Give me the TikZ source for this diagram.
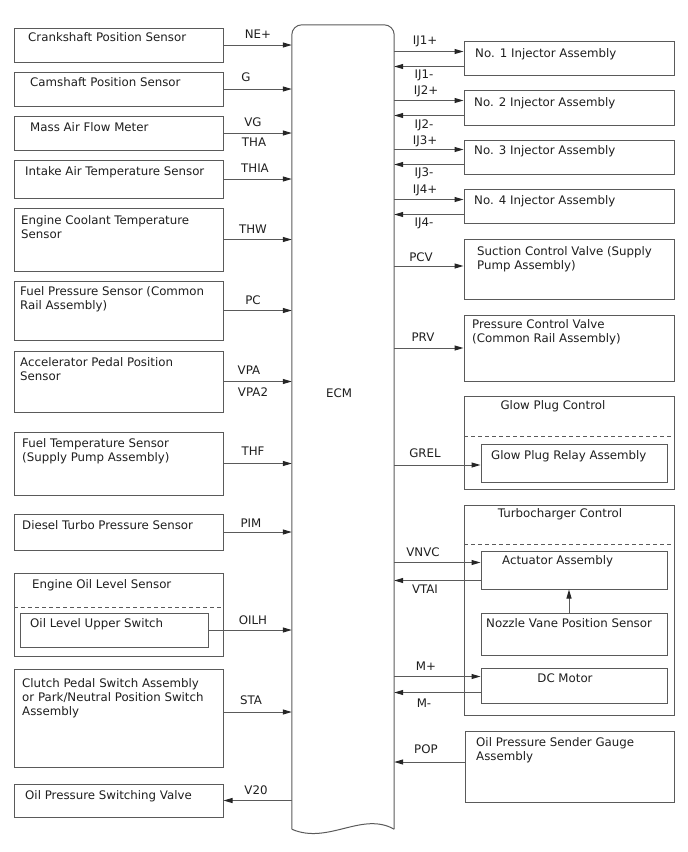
\documentclass[tikz,border=0pt]{standalone}
\usepackage{fontspec}
\setmainfont{DejaVu Sans}
\usepackage{tikz}
\usetikzlibrary{arrows.meta,calc,positioning}
\definecolor{linec}{HTML}{5A5A5A}
\definecolor{txtc}{HTML}{1E1E1E}

\begin{document}
\begin{tikzpicture}[x=1pt,y=-1pt,
  font=\fontsize{11.8}{14}\selectfont,
  box/.style={draw=linec,line width=1pt,inner sep=0pt,minimum width=209pt},
  rbox/.style={box,minimum width=210pt},
  subbox/.style={draw=linec,line width=1pt,inner sep=0pt,minimum width=186pt},
  txt/.style={inner sep=0pt,anchor=north west,align=left,text=txtc},
  sig/.style={inner sep=0pt,text=txtc},
  wire/.style={draw=linec,line width=1pt,-{Triangle[length=9pt,width=5pt,color=black!85]}},
  sep/.style={draw=linec,line width=0.9pt,dash pattern=on 4pt off 3pt}]
 \useasboundingbox (0,0) rectangle (688,852);

 % ECM
 \node[inner sep=0pt,minimum width=102pt,minimum height=804pt] (ecm) at (343,427) {};
 \draw[linec,line width=1pt,rounded corners=10pt]
   (ecm.south west) -- (ecm.north west) -- (ecm.north east) -- (ecm.south east);
 \draw[linec,line width=1pt] (ecm.south east) .. controls (362,811) and (328,845) .. (ecm.south west);
 \node[sig] (ecmt) at (339,393) {ECM};

 % inputs, left side
 \node[box,minimum height=34pt] (csp) at (118.5,45) {};
 \node[txt] (csp-t) at (28,32) {Crankshaft Position Sensor};
 \node[box,minimum height=34pt] (cmp) at (118.5,89) {};
 \node[txt] (cmp-t) at (30,77) {Camshaft Position Sensor};
 \node[box,minimum height=34pt] (maf) at (118.5,133) {};
 \node[txt] (maf-t) at (30,122) {Mass Air Flow Meter};
 \node[box,minimum height=38pt] (iat) at (118.5,179) {};
 \node[txt] (iat-t) at (25,166) {Intake Air Temperature Sensor};
 \node[box,minimum height=63pt] (ect) at (118.5,239.5) {};
 \node[txt] (ect-t) at (21,215) {Engine Coolant Temperature\\Sensor};
 \node[box,minimum height=59pt] (fps) at (118.5,310.5) {};
 \node[txt] (fps-t) at (20,286) {Fuel Pressure Sensor (Common\\Rail Assembly)};
 \node[box,minimum height=61pt] (app) at (118.5,381.5) {};
 \node[txt] (app-t) at (20,357) {Accelerator Pedal Position\\Sensor};
 \node[box,minimum height=63pt] (fts) at (118.5,463.5) {};
 \node[txt] (fts-t) at (22,438) {Fuel Temperature Sensor\\(Supply Pump Assembly)};
 \node[box,minimum height=36pt] (dtp) at (118.5,532) {};
 \node[txt] (dtp-t) at (22,520) {Diesel Turbo Pressure Sensor};
 \node[box,minimum height=83pt] (eol) at (118.5,614.5) {};
 \node[txt] (eol-t) at (32,579) {Engine Oil Level Sensor};
 \draw[sep] (14,607) -- (223,607);
 \node[subbox,minimum width=188pt,minimum height=34pt] (olu) at (114,630) {};
 \node[txt] (olu-t) at (30,618) {Oil Level Upper Switch};
 \node[box,minimum height=98pt] (cps) at (118.5,718) {};
 \node[txt] (cps-t) at (22,678) {Clutch Pedal Switch Assembly\\or Park/Neutral Position Switch\\Assembly};
 \node[box,minimum height=33pt] (opsv) at (118.5,800.5) {};
 \node[txt] (opsv-t) at (25,790) {Oil Pressure Switching Valve};

 \draw[wire] (csp.east) -- (csp.east -| ecm.west);
 \draw[wire] (cmp.east) -- (cmp.east -| ecm.west);
 \draw[wire] (maf.east) -- (maf.east -| ecm.west);
 \draw[wire] (iat.east) -- (iat.east -| ecm.west);
 \draw[wire] (ect.east) -- (ect.east -| ecm.west);
 \draw[wire] (fps.east) -- (fps.east -| ecm.west);
 \draw[wire] (app.east) -- (app.east -| ecm.west);
 \draw[wire] (fts.east) -- (fts.east -| ecm.west);
 \draw[wire] (dtp.east) -- (dtp.east -| ecm.west);
 \draw[wire] (olu.east) -- (olu.east -| ecm.west);
 \coordinate (sta) at ($(cps.east)+(0,-6)$);
 \draw[wire] (sta) -- (sta -| ecm.west);
 \draw[wire] (opsv.east -| ecm.west) -- (opsv.east);

 \node[sig] (ne)   at (258,34)  {NE+};
 \node[sig] (g)    at (246,77)  {G};
 \node[sig] (vg)   at (253,122) {VG};
 \node[sig] (tha)  at (254,142) {THA};
 \node[sig] (thia) at (255,168) {THIA};
 \node[sig] (thw)  at (253,229) {THW};
 \node[sig] (pc)   at (253,300) {PC};
 \node[sig] (vpa)  at (249,370) {VPA};
 \node[sig] (vpa2) at (253,392) {VPA2};
 \node[sig] (thf)  at (253,451) {THF};
 \node[sig] (pim)  at (251,523) {PIM};
 \node[sig] (oilh) at (253,620) {OILH};
 \node[sig] (stal) at (251,700) {STA};
 \node[sig] (v20)  at (256,790) {V20};

 % outputs, right side
 \node[rbox,minimum height=34pt] (inj1) at (569,58) {};
 \node[txt] (inj1-t) at (475,48) {No. 1 Injector Assembly};
 \node[rbox,minimum height=35pt] (inj2) at (569,107.5) {};
 \node[txt] (inj2-t) at (474,97) {No. 2 Injector Assembly};
 \node[rbox,minimum height=34pt] (inj3) at (569,157) {};
 \node[txt] (inj3-t) at (474,145) {No. 3 Injector Assembly};
 \node[rbox,minimum height=34pt] (inj4) at (569,206) {};
 \node[txt] (inj4-t) at (474,195) {No. 4 Injector Assembly};
 \node[rbox,minimum height=60pt] (scv) at (569,269) {};
 \node[txt] (scv-t) at (477,246) {Suction Control Valve (Supply\\Pump Assembly)};
 \node[rbox,minimum height=66pt] (prv) at (569,348) {};
 \node[txt] (prv-t) at (472,319) {Pressure Control Valve\\(Common Rail Assembly)};

 \node[rbox,minimum height=93pt] (gpc) at (569,442.5) {};
 \node[sig] (gpc-t) at (553,406) {Glow Plug Control};
 \draw[sep] (464,436) -- (674,436);
 \node[subbox,minimum height=38pt] (gpr) at (574,463) {};
 \node[txt] (gpr-t) at (491,450) {Glow Plug Relay Assembly};

 \node[rbox,minimum height=210pt] (tcc) at (569,610) {};
 \node[sig] (tcc-t) at (560,514) {Turbocharger Control};
 \draw[sep] (464,544) -- (674,544);
 \node[subbox,minimum height=38pt] (act) at (574,570) {};
 \node[txt] (act-t) at (502,555) {Actuator Assembly};
 \node[subbox,minimum height=42pt] (nvs) at (574,634) {};
 \node[txt] (nvs-t) at (486,618) {Nozzle Vane Position Sensor};
 \node[subbox,minimum height=35pt] (dcm) at (574,685.5) {};
 \node[sig] (dcm-t) at (565,678) {DC Motor};

 \node[rbox,minimum width=209pt,minimum height=71pt] (opsg) at (569.5,766.5) {};
 \node[txt] (opsg-t) at (476,737) {Oil Pressure Sender Gauge\\Assembly};

 \coordinate (ij1p) at ($(inj1.north west)+(0,11)$);
 \coordinate (ij1m) at ($(inj1.north west)+(0,26)$);
 \coordinate (ij2p) at ($(inj2.north west)+(0,11)$);
 \coordinate (ij2m) at ($(inj2.north west)+(0,26)$);
 \coordinate (ij3p) at ($(inj3.north west)+(0,10)$);
 \coordinate (ij3m) at ($(inj3.north west)+(0,25)$);
 \coordinate (ij4p) at ($(inj4.north west)+(0,11)$);
 \coordinate (ij4m) at ($(inj4.north west)+(0,26)$);
 \draw[wire] (ij1p -| ecm.east) -- (ij1p);
 \draw[wire] (ij1m) -- (ij1m -| ecm.east);
 \draw[wire] (ij2p -| ecm.east) -- (ij2p);
 \draw[wire] (ij2m) -- (ij2m -| ecm.east);
 \draw[wire] (ij3p -| ecm.east) -- (ij3p);
 \draw[wire] (ij3m) -- (ij3m -| ecm.east);
 \draw[wire] (ij4p -| ecm.east) -- (ij4p);
 \draw[wire] (ij4m) -- (ij4m -| ecm.east);
 \coordinate (pcv) at ($(scv.west)+(0,-3)$);
 \draw[wire] (pcv -| ecm.east) -- (pcv);
 \draw[wire] (prv.west -| ecm.east) -- (prv.west);
 \coordinate (grel) at ($(gpr.west)+(0,2)$);
 \draw[wire] (grel -| ecm.east) -- (grel);
 \coordinate (vnvc) at ($(act.north west)+(0,12)$);
 \coordinate (vtai) at ($(act.north west)+(0,30)$);
 \draw[wire] (vnvc -| ecm.east) -- (vnvc);
 \draw[wire] (vtai) -- (vtai -| ecm.east);
 \draw[wire] ($(nvs.north)+(-5,0)$) -- ($(act.south)+(-5,0)$);
 \coordinate (mp) at ($(dcm.north west)+(0,9)$);
 \coordinate (mm) at ($(dcm.north west)+(0,25)$);
 \draw[wire] (mp -| ecm.east) -- (mp);
 \draw[wire] (mm) -- (mm -| ecm.east);
 \coordinate (pop) at ($(opsg.west)+(0,-4.5)$);
 \draw[wire] (pop) -- (pop -| ecm.east);

 \node[sig] (ij1pl) at (425,41)  {IJ1+};
 \node[sig] (ij1ml) at (424,75)  {IJ1-};
 \node[sig] (ij2pl) at (426,91)  {IJ2+};
 \node[sig] (ij2ml) at (424,125) {IJ2-};
 \node[sig] (ij3pl) at (425,141) {IJ3+};
 \node[sig] (ij3ml) at (424,173) {IJ3-};
 \node[sig] (ij4pl) at (425,190) {IJ4+};
 \node[sig] (ij4ml) at (424,223) {IJ4-};
 \node[sig] (pcvl)  at (421,257) {PCV};
 \node[sig] (prvl)  at (423,337) {PRV};
 \node[sig] (grell) at (425,453) {GREL};
 \node[sig] (vnvcl) at (423,552) {VNVC};
 \node[sig] (vtail) at (425,589) {VTAI};
 \node[sig] (mpl)   at (426,666) {M+};
 \node[sig] (mml)   at (424,703) {M-};
 \node[sig] (popl)  at (426,749) {POP};
\end{tikzpicture}
\end{document}
